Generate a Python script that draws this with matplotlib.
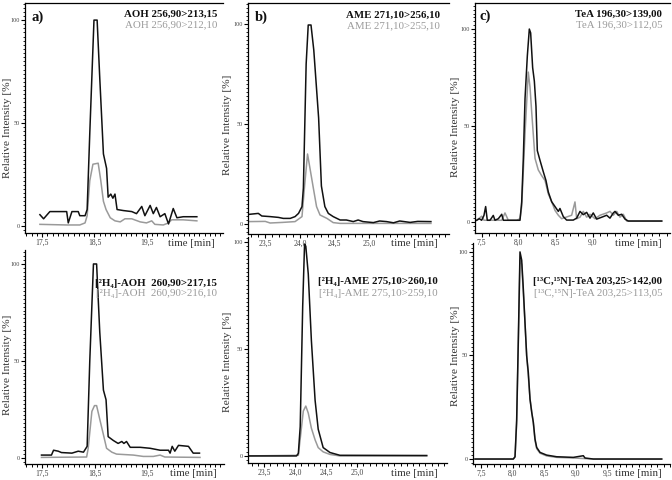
import matplotlib
matplotlib.use("Agg")
import matplotlib.pyplot as plt
from matplotlib.ticker import MultipleLocator, FixedLocator, FuncFormatter

plt.rcParams['font.family'] = ['Liberation Serif', 'DejaVu Serif']

# ---------------- data (time [min], relative intensity [%]) ----------------
# a) AOH (top)
aoh_t_black = [17.46, 17.53, 17.65, 17.97, 18.00, 18.07, 18.19, 18.22, 18.32, 18.36, 18.41, 18.49,
               18.55, 18.60, 18.67, 18.73, 18.76, 18.81, 18.85, 18.89, 18.93, 19.05, 19.21, 19.30,
               19.40, 19.46, 19.56, 19.62, 19.68, 19.75, 19.84, 19.91, 20.00, 20.07, 20.19, 20.45]
aoh_black = [5.5, 3.5, 7.0, 7.0, 1.5, 7.0, 7.0, 5.0, 5.0, 8.0, 45, 100,
             100, 72, 35, 28, 14, 15.5, 13.5, 15.5, 8.0, 7.5, 7.0, 6.0,
             9.5, 5.0, 10, 6.0, 9.0, 4.5, 6.0, 1.0, 8.5, 4.0, 4.5, 4.5]
aoh_t_grey = [17.46, 17.97, 18.22, 18.32, 18.36, 18.41, 18.47, 18.57, 18.62, 18.67, 18.72, 18.80,
              18.89, 18.99, 19.08, 19.21, 19.37, 19.49, 19.59, 19.65, 19.81, 19.91, 19.97, 20.19, 20.45]
aoh_grey = [0.8, 0.5, 0.5, 1.5, 5, 22, 30, 30.5, 22, 12, 8, 4,
            2.5, 2, 3.5, 3.5, 2, 1.5, 2.5, 0.8, 0.5, 1.5, 3, 3, 2.5]

# a) [2H4]-AOH (bottom)
d4aoh_t_black = [17.49, 17.68, 17.72, 17.81, 17.87, 18.07, 18.19, 18.29, 18.36, 18.41, 18.48, 18.54,
                 18.60, 18.67, 18.72, 18.76, 18.86, 18.95, 19.02, 19.06, 19.11, 19.18, 19.37, 19.56,
                 19.75, 19.91, 19.94, 19.98, 20.03, 20.10, 20.29, 20.38, 20.50]
d4aoh_black = [1.5, 1.5, 4, 3.5, 2.8, 2.5, 3.5, 3, 6, 50, 100, 100,
               65, 35, 30, 11, 9, 7.5, 8.5, 7.5, 8.5, 5.5, 5.5, 5,
               4, 4, 2.5, 6, 3.5, 6.5, 6, 2.5, 2.5]
d4aoh_t_grey = [17.49, 18.35, 18.38, 18.45, 18.50, 18.54, 18.60, 18.67, 18.73, 18.83, 18.92, 19.24,
                19.43, 19.62, 19.75, 19.84, 20.51]
d4aoh_grey = [0.3, 0.5, 5, 24, 27, 27, 20, 12, 5, 3, 2, 1.5,
              0.8, 0.8, 1.5, 0.5, 0.3]

# b) AME (top)
ame_t_black = [23.26, 23.40, 23.45, 23.57, 23.69, 23.76, 23.86, 23.93, 23.98, 24.03, 24.05, 24.09,
               24.12, 24.16, 24.20, 24.27, 24.31, 24.36, 24.41, 24.48, 24.58, 24.67, 24.77, 24.84,
               24.91, 25.06, 25.15, 25.25, 25.35, 25.44, 25.59, 25.70, 25.89]
ame_black = [4.8, 5.3, 4.0, 3.7, 3.3, 2.8, 2.8, 3.7, 5.3, 8.7, 18, 80,
             99.5, 99.5, 87, 53, 19, 8.7, 5.3, 3.7, 2.0, 2.0, 1.2, 2.0,
             1.2, 0.7, 1.5, 1.2, 0.6, 1.5, 0.8, 1.3, 1.2]
ame_t_grey = [23.26, 23.50, 23.57, 23.75, 23.93, 24.03, 24.07, 24.11, 24.19, 24.24, 24.29, 24.39,
              24.48, 24.58, 25.89]
ame_grey = [1.2, 1.3, 0.5, 0.8, 1.2, 3.7, 20, 35, 18.7, 8.7, 4.5, 2.8,
            0.7, 0.3, 0.3]

# b) [2H4]-AME (bottom)
d4ame_t_black = [23.24, 24.02, 24.05, 24.08, 24.12, 24.15, 24.17, 24.21, 24.26, 24.32, 24.37, 24.45,
                 24.56, 24.72, 26.12]
d4ame_black = [0, 0, 1.2, 13.7, 70, 99, 98, 85, 54, 26, 12.5, 3.9,
               1.6, 0.3, 0.2]
d4ame_t_grey = [23.24, 24.05, 24.09, 24.13, 24.17, 24.21, 24.26, 24.32, 24.37, 24.45, 24.56, 24.72, 26.12]
d4ame_grey = [0, 0.3, 10.6, 21, 23.3, 20, 13, 7.5, 3.9, 1.9, 0.7, 0, 0]

# c) TeA (top)
tea_t_black = [7.434, 7.469, 7.501, 7.532, 7.555, 7.577, 7.614, 7.658, 7.681, 7.726, 7.772, 7.794,
               7.839, 8.019, 8.042, 8.064, 8.087, 8.118, 8.145, 8.163, 8.190, 8.213, 8.235, 8.253,
               8.289, 8.334, 8.370, 8.402, 8.447, 8.492, 8.537, 8.559, 8.604, 8.649, 8.739, 8.785,
               8.830, 8.874, 8.920, 8.965, 9.009, 9.055, 9.145, 9.190, 9.235, 9.280, 9.303, 9.347,
               9.393, 9.438, 9.482, 9.934]
tea_black = [0.9, 1.7, 0.9, 3.4, 8.0, 0.9, 0.9, 3.4, 0.9, 1.7, 4.0, 0.9,
             0.9, 0.9, 10.4, 33, 64, 86, 100, 98, 80, 73, 60, 37,
             32, 26, 21.5, 15.5, 10.5, 8, 5.5, 7, 2.8, 1, 1, 2,
             5.5, 3.8, 5, 2, 4.7, 1.5, 2.8, 3.5, 2, 4.7, 5.5, 3.5,
             4, 1.5, 0.5, 0.5]
tea_t_grey = [7.434, 7.501, 7.532, 7.726, 7.772, 7.816, 7.861, 7.974, 8.019, 8.042, 8.087, 8.131,
              8.154, 8.177, 8.222, 8.266, 8.312, 8.357, 8.402, 8.447, 8.492, 8.537, 8.582, 8.717,
              8.762, 8.785, 8.830, 8.874, 8.920, 8.965, 9.032, 9.100, 9.190, 9.235, 9.280, 9.326,
              9.370, 9.415, 9.461, 9.934]
tea_grey = [0.9, 3, 0.9, 0.9, 0.9, 4.7, 0.9, 0.9, 1.7, 8, 45.8, 77.7,
            70, 57, 33, 27, 24, 21.5, 14.5, 10.5, 6, 3.5, 1.7, 3.5,
            10.4, 1.7, 2.5, 5.5, 2.5, 4, 1.7, 3.5, 4.7, 5.5, 3.5, 5.5,
            2.5, 4, 0.5, 0.5]

# c) [13C,15N]-TeA (bottom)
ltea_t_black = [7.405, 8.013, 8.040, 8.066, 8.092, 8.119, 8.146, 8.172, 8.198, 8.225, 8.251, 8.278,
                8.305, 8.331, 8.357, 8.384, 8.437, 8.542, 8.701, 8.966, 9.124, 9.151, 9.283, 10.368]
ltea_black = [0, 0, 1.1, 18.8, 57, 100, 96, 82, 66, 49.8, 41.8, 28.9,
              22.5, 17.7, 9.7, 5.6, 3.2, 1.9, 1.1, 0.8, 1.6, 0.5, 0, 0]
ltea_t_grey = [7.405, 8.013, 8.040, 8.066, 8.092, 8.119, 8.146, 8.172, 8.198, 8.225, 8.251, 8.278,
               8.305, 8.331, 8.357, 8.384, 8.437, 8.542, 8.701, 8.966, 9.283, 10.368]
ltea_grey = [0, 0, 1, 17, 55, 96, 94, 80, 66, 50, 40, 29,
             23, 17, 9, 5, 2.8, 1.5, 0.8, 0.5, 0, 0]

# transition labels (black = quantifier, grey = qualifier)
labels_black = ['AOH 256,90>213,15', '[²H₄]-AOH  260,90>217,15',
                'AME 271,10>256,10', '[²H₄]-AME 275,10>260,10',
                'TeA 196,30>139,00', '[¹³C,¹⁵N]-TeA 203,25>142,00']
labels_grey = ['AOH 256,90>212,10', '[²H₄]-AOH  260,90>216,10',
               'AME 271,10>255,10', '[²H₄]-AME 275,10>259,10',
               'TeA 196,30>112,05', '[¹³C,¹⁵N]-TeA 203,25>113,05']
xtick_vals = [[17.5, 18.5, 19.5], [17.5, 18.5, 19.5],
              [23.5, 24.0, 24.5, 25.0], [23.5, 24.0, 24.5, 25.0],
              [7.5, 8.0, 8.5, 9.0], [7.5, 8.0, 8.5, 9.0, 9.5]]
letters = ['a)', 'b)', 'c)']

# ---------------- layout (pixels on a 672x480 canvas) ----------------
W, H = 672, 480
fig = plt.figure(figsize=(6.72, 4.8), dpi=100)

def fx(x):
    return x / W

def fy(y):
    return 1 - y / H

#            L    T    R    B
boxes = [(25, 3, 223, 233), (25, 250, 224, 464),
         (248, 3, 449, 234), (248, 237, 447, 463),
         (475, 3, 670, 233), (473, 243, 670, 464)]
xlims = [(17.176, 20.948), (17.176, 20.967),
         (23.251, 26.151), (23.238, 26.447),
         (7.411, 10.046), (7.373, 10.5)]
ylims = [(-3.4, 108.3), (-3.1, 107.2),
         (-5.0, 110.5), (-3.3, 102.3),
         (-5.7, 113.5), (-2.4, 104.3)]
series = [(aoh_t_grey, aoh_grey, aoh_t_black, aoh_black),
          (d4aoh_t_grey, d4aoh_grey, d4aoh_t_black, d4aoh_black),
          (ame_t_grey, ame_grey, ame_t_black, ame_black),
          (d4ame_t_grey, d4ame_grey, d4ame_t_black, d4ame_black),
          (tea_t_grey, tea_grey, tea_t_black, tea_black),
          (ltea_t_grey, ltea_grey, ltea_t_black, ltea_black)]
# label anchor (right edge x, first line y) and other text positions
label_pos = [(217, 14), (217, 283), (440, 15), (438, 282), (662, 14), (662, 282)]
ylabel_pos = [(8, 128), (8, 365), (228, 125), (228, 362), (455, 127), (455, 356)]
time_pos = [(215, 243), (217, 473), (438, 243), (438, 473), (662, 243), (662, 473)]
letter_pos = [(31, 17), (255, 17), (480, 16)]

grey = '#9a9a9a'
comma = FuncFormatter(lambda v, p: f"{v:.1f}".replace('.', ','))

for i in range(6):
    L, T, R, B = boxes[i]
    ax = fig.add_axes([fx(L), fy(B), (R - L) / W, (B - T) / H])
    tg, yg, tb, yb = series[i]
    ax.plot(tg, yg, color=grey, lw=1.1)
    ax.plot(tb, yb, color='#111111', lw=1.1)
    ax.set_xlim(*xlims[i])
    ax.set_ylim(*ylims[i])

    ax.spines['right'].set_visible(False)
    ax.spines['top'].set_visible(i % 2 == 0)
    for s in ax.spines.values():
        s.set_linewidth(0.9)

    ax.xaxis.set_major_locator(FixedLocator(xtick_vals[i]))
    ax.xaxis.set_major_formatter(comma)
    ax.xaxis.set_minor_locator(MultipleLocator(0.1))
    ax.yaxis.set_major_locator(FixedLocator([0, 50, 100]))
    ax.yaxis.set_minor_locator(MultipleLocator(2))
    ax.tick_params(axis='x', which='major', direction='out', length=3, width=0.8,
                   labelsize=5.5, pad=1.5, labelcolor='#444444')
    ax.tick_params(axis='x', which='minor', direction='out', length=2, width=0.7)
    ax.tick_params(axis='y', which='major', direction='out', length=3, width=0.8,
                   labelsize=4.5, pad=1, labelcolor='#444444')
    ax.tick_params(axis='y', which='minor', direction='out', length=1.8, width=0.6)
    ax.patch.set_alpha(0)

    lx, ly = label_pos[i]
    fig.text(fx(lx), fy(ly), labels_black[i], ha='right', va='center',
             fontsize=7.8, fontweight='bold', color='#111111')
    fig.text(fx(lx), fy(ly + 11), labels_grey[i], ha='right', va='center',
             fontsize=7.8, color=grey)

    yx, yy = ylabel_pos[i]
    fig.text(fx(yx), fy(yy), 'Relative Intensity [%]', rotation=90,
             ha='center', va='center', fontsize=8.2, color='#333333')
    tx, ty = time_pos[i]
    fig.text(fx(tx), fy(ty), 'time [min]', ha='right', va='center',
             fontsize=7.8, color='#333333')

for j in range(3):
    px, py = letter_pos[j]
    fig.text(fx(px), fy(py), letters[j], ha='left', va='center',
             fontsize=10.5, fontweight='bold', color='#111111')

fig.savefig('out.png', dpi=100)
